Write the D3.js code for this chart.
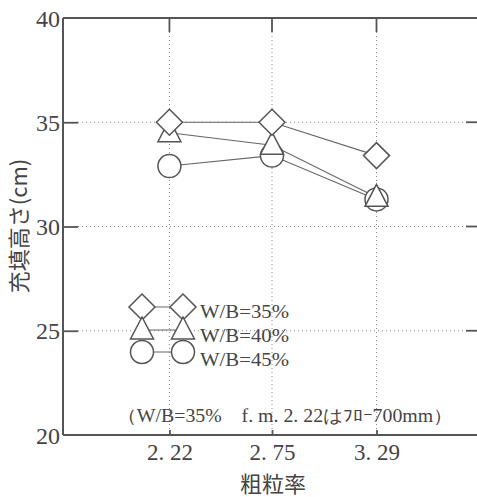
<!DOCTYPE html>
<html>
<head>
<meta charset="utf-8">
<script src="https://cdn.jsdelivr.net/npm/d3@7"></script>
<style>
  body { margin: 0; background: #fff; }
  svg { display: block; }
  .num { font-family: "Liberation Serif", serif; fill: #444; }
  .jp { font-family: "Noto Sans CJK JP", sans-serif; fill: #444; }
</style>
</head>
<body>
<div id="chart"></div>
<script>
// données
const fm = [2.22, 2.75, 3.29]
const fmLabels = ["2. 22", "2. 75", "3. 29"]
const wb35 = [35.0, 35.0, 33.4]
const wb40 = [34.5, 33.9, 31.4]
const wb45 = [32.9, 33.4, 31.3]
const seriesNames = ["W/B=35%", "W/B=40%", "W/B=45%"]
const yTicks = [20, 25, 30, 35, 40]
const note = "（W/B=35%　f. m. 2. 22はﾌﾛｰ700mm）"

const W = 477, H = 497
const ink = "#555"

const svg = d3.select("#chart").append("svg")
    .attr("width", W).attr("height", H)

// Echelles
const x = d3.scaleLinear().domain([1.67, 3.83]).range([63, 481])
const y = d3.scaleLinear().domain([20, 40]).range([435, 18])

// grille pointillée
svg.append("g").selectAll("line.gy")
    .data(yTicks.filter(d => d > 20 && d < 40))
    .join("line")
    .attr("x1", x.range()[0] + 15).attr("x2", x.range()[1] - 15)
    .attr("y1", d => y(d)).attr("y2", d => y(d))
    .attr("stroke", "#888").attr("stroke-width", 1).attr("stroke-dasharray", "1,3")

svg.append("g").selectAll("line.gx")
    .data(fm)
    .join("line")
    .attr("x1", d => x(d)).attr("x2", d => x(d))
    .attr("y1", y(40) + 14).attr("y2", y(20) - 5)
    .attr("stroke", "#888").attr("stroke-width", 1).attr("stroke-dasharray", "1,3")

// cadre
svg.append("line").attr("x1", x.range()[0]).attr("x2", x.range()[1])
    .attr("y1", y(40)).attr("y2", y(40)).attr("stroke", ink).attr("stroke-width", 1.8)
svg.append("line").attr("x1", x.range()[0]).attr("x2", x.range()[1])
    .attr("y1", y(20)).attr("y2", y(20)).attr("stroke", ink).attr("stroke-width", 2)
svg.append("line").attr("x1", x.range()[0]).attr("x2", x.range()[0])
    .attr("y1", y(40)).attr("y2", y(20)).attr("stroke", ink).attr("stroke-width", 2)

// axe Y
const yAxis = svg.append("g")
    .attr("transform", "translate(" + x.range()[0] + ",0)")
    .call(d3.axisLeft(y).tickValues(yTicks).tickSize(-15).tickPadding(3).tickFormat(d3.format("d")))
yAxis.select(".domain").remove()
yAxis.selectAll(".tick line").attr("stroke", ink).attr("stroke-width", 1.8)
    .filter(d => d === 20 || d === 40).remove()
yAxis.selectAll(".tick text").attr("class", "num").attr("font-size", 24)
    .attr("fill", "#444").attr("dy", "0.34em")

// ticks droits
svg.append("g").selectAll("line")
    .data(yTicks.filter(d => d > 20 && d < 40))
    .join("line")
    .attr("x1", 466).attr("x2", x.range()[1])
    .attr("y1", d => y(d)).attr("y2", d => y(d))
    .attr("stroke", ink).attr("stroke-width", 1.8)

// axe X
const xAxis = svg.append("g")
    .attr("transform", "translate(0," + y(20) + ")")
    .call(d3.axisBottom(x).tickValues(fm).tickSize(-5).tickPadding(9)
        .tickFormat((d, i) => fmLabels[i]))
xAxis.select(".domain").remove()
xAxis.selectAll(".tick line").attr("stroke", ink).attr("stroke-width", 1.8)
xAxis.selectAll(".tick text").attr("class", "num").attr("font-size", 23)
    .attr("fill", "#444").attr("dy", "0.71em")

// ticks du haut
svg.append("g").selectAll("line")
    .data(fm)
    .join("line")
    .attr("x1", d => x(d)).attr("x2", d => x(d))
    .attr("y1", y(40)).attr("y2", y(40) + 14)
    .attr("stroke", ink).attr("stroke-width", 1.8)

// titres
svg.append("text").attr("class", "jp")
    .attr("x", 273).attr("y", 492).attr("text-anchor", "middle")
    .attr("font-size", 22).text("粗粒率")
svg.append("text").attr("class", "jp")
    .attr("transform", "translate(27,226) rotate(-90)")
    .attr("text-anchor", "middle").attr("font-size", 22)
    .text("充填高さ(cm)")

// symboles
const diamond = (cx, cy, s) => `M${cx},${cy - s}L${cx + s},${cy}L${cx},${cy + s}L${cx - s},${cy}Z`
const triangle = (cx, cy, s) => `M${cx},${cy - 13}L${cx + s},${cy + 9}L${cx - s},${cy + 9}Z`

const series = [
    { name: seriesNames[2], values: wb45, shape: "circle" },
    { name: seriesNames[1], values: wb40, shape: "triangle" },
    { name: seriesNames[0], values: wb35, shape: "diamond" }
]

const line = d3.line().x(d => x(d[0])).y(d => y(d[1]))

// lignes
series.forEach(s => {
    svg.append("path")
        .datum(fm.map((f, i) => [f, s.values[i]]))
        .attr("d", line)
        .attr("fill", "none").attr("stroke", "#666").attr("stroke-width", 1.1)
})

const drawMark = (g, shape, cx, cy) => {
    if (shape === "circle") {
        g.append("circle").attr("cx", cx).attr("cy", cy).attr("r", 11.5)
            .attr("fill", "#fff").attr("stroke", ink).attr("stroke-width", 1.5)
    } else if (shape === "triangle") {
        g.append("path").attr("d", triangle(cx, cy, 11.5))
            .attr("fill", "#fff").attr("stroke", ink).attr("stroke-width", 1.5)
    } else {
        g.append("path").attr("d", diamond(cx, cy, 13))
            .attr("fill", "#fff").attr("stroke", ink).attr("stroke-width", 1.5)
    }
}

series.forEach(s => {
    const g = svg.append("g")
    fm.forEach((f, i) => drawMark(g, s.shape, x(f), y(s.values[i])))
})

// légende
const legend = [
    { name: seriesNames[0], shape: "diamond", cy: 307, ty: 318 },
    { name: seriesNames[1], shape: "triangle", cy: 330, ty: 342 },
    { name: seriesNames[2], shape: "circle", cy: 352, ty: 366 }
]
legend.forEach(l => {
    const g = svg.append("g")
    g.append("line").attr("x1", 142).attr("x2", 183)
        .attr("y1", l.cy).attr("y2", l.cy)
        .attr("stroke", "#666").attr("stroke-width", 1.1)
    drawMark(g, l.shape, 142, l.cy)
    drawMark(g, l.shape, 183, l.cy)
    g.append("text").attr("class", "num")
        .attr("x", 200).attr("y", l.ty).attr("font-size", 18)
        .attr("textLength", 89).attr("lengthAdjust", "spacingAndGlyphs")
        .text(l.name)
})

// note
svg.append("text").attr("class", "num")
    .attr("x", 117).attr("y", 422).attr("font-size", 18)
    .attr("textLength", 336).attr("lengthAdjust", "spacingAndGlyphs")
    .text(note)
</script>
</body>
</html>
